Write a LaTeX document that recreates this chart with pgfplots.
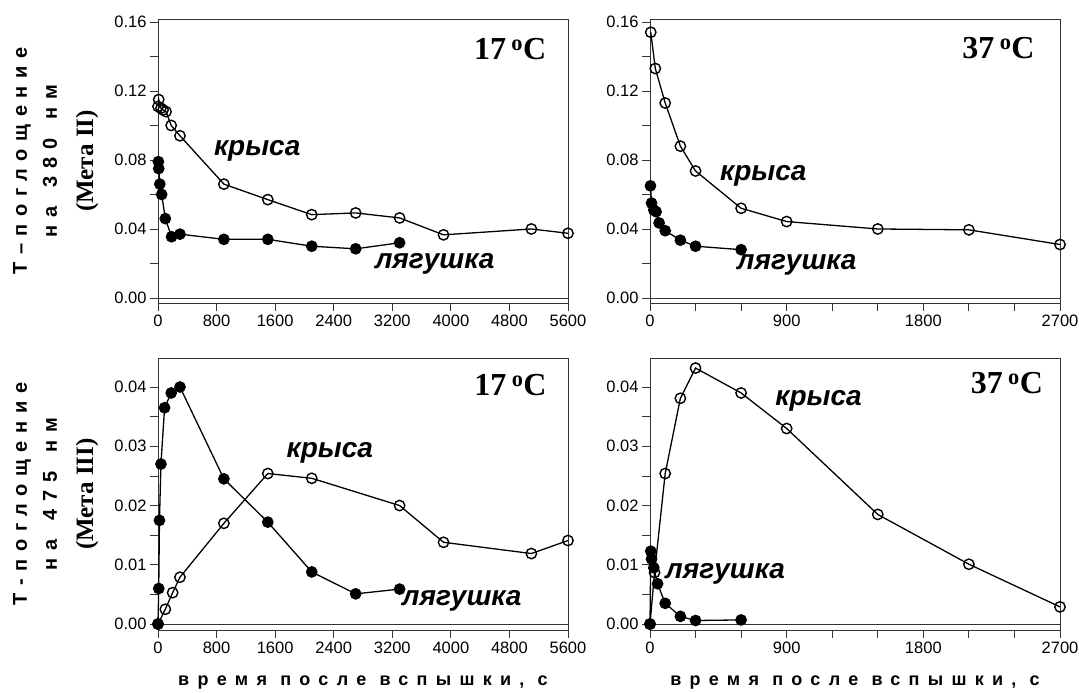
\documentclass[border=0pt]{standalone}
\usepackage{fontspec}
\setmainfont{Liberation Serif}
\setsansfont{Liberation Sans}
\newfontfamily\spaced[LetterSpace=38]{Liberation Sans}
\newfontfamily\xspaced[LetterSpace=46]{Liberation Sans}
\usepackage{pgfplots}
\pgfplotsset{compat=1.18}
\pgfplotsset{
  panel/.style={
    scale only axis, width=410pt,
    axis line style={black!80, line width=0.8pt},
    tick align=outside, xtick pos=bottom, ytick pos=left,
    major tick length=8pt, minor tick length=8pt,
    every tick/.style={black!80, line width=0.8pt},
    tick label style={font=\fontsize{16.5}{16.5}\selectfont\sffamily},
    /pgf/number format/assume math mode=true,
    scaled ticks=false, clip=false, xmin=0,
    x tick label style={/pgf/number format/1000 sep={}},
    y tick label style={/pgf/number format/.cd, fixed, fixed zerofill, precision=2},
  },
  toprow/.style={panel, height=284pt, ymin=-0.0029, ymax=0.1617,
    ytick={0,0.04,0.08,0.12,0.16}, minor y tick num=1},
  botrow/.style={panel, height=272pt, ymin=-0.001, ymax=0.0449,
    ytick={0,0.01,0.02,0.03,0.04}, minor y tick num=1},
  lpanel/.style={xmax=5600, xtick={0,800,1600,2400,3200,4000,4800,5600}},
  rpanel/.style={xmax=2700, xtick={0,900,1800,2700}, minor x tick num=2},
  rat/.style={black, line width=1.3pt, mark=o, mark size=5.2pt, mark options={line width=1.4pt}},
  frog/.style={black, line width=1.3pt, mark=*, mark size=5.2pt},
}
\tikzset{
  lab/.style={font=\fontsize{28}{28}\selectfont\sffamily\bfseries\itshape},
  temp/.style={font=\fontsize{32}{32}\selectfont\bfseries},
}
\newcommand{\zeroline}{\draw[black!80, line width=0.8pt] ({rel axis cs:0,0}|-{axis cs:0,0}) -- ({rel axis cs:1,0}|-{axis cs:0,0});}
\begin{document}
\begin{tikzpicture}
\path[use as bounding box] (0,0) rectangle (1079pt,693pt);
% ---------- top left
\begin{axis}[toprow, lpanel, at={(158pt,390pt)}, anchor=south west]
\zeroline
\addplot[rat] coordinates {(0,0.111) (10,0.115) (40,0.110) (70,0.109) (110,0.108) (180,0.100) (300,0.094) (900,0.066) (1500,0.057) (2100,0.0483) (2700,0.0493) (3300,0.0464) (3900,0.0366) (5100,0.0400) (5600,0.0375)};
\addplot[frog] coordinates {(5,0.079) (10,0.075) (25,0.066) (50,0.060) (100,0.046) (185,0.0355) (300,0.037) (900,0.034) (1500,0.034) (2100,0.030) (2700,0.0285) (3300,0.032)};
\node[temp] at (axis cs:4810,0.144) {17\,\textsuperscript{o}C};
\node[lab] at (axis cs:1355,0.0853) {крыса};
\node[lab] at (axis cs:3780,0.0198) {лягушка};
\end{axis}
% ---------- top right
\begin{axis}[toprow, rpanel, at={(650pt,390pt)}, anchor=south west]
\zeroline
\addplot[rat] coordinates {(5,0.154) (35,0.133) (100,0.113) (200,0.088) (300,0.0736) (600,0.052) (900,0.0443) (1500,0.040) (2100,0.0395) (2700,0.031)};
\addplot[frog] coordinates {(3,0.065) (10,0.055) (25,0.051) (40,0.050) (60,0.0435) (100,0.039) (200,0.0335) (300,0.030) (600,0.028)};
\node[temp] at (axis cs:2295,0.1446) {37\,\textsuperscript{o}C};
\node[lab] at (axis cs:746,0.0707) {крыса};
\node[lab] at (axis cs:967,0.0193) {лягушка};
\end{axis}
% ---------- bottom left
\begin{axis}[botrow, lpanel, at={(158pt,63pt)}, anchor=south west]
\zeroline
\addplot[rat] coordinates {(0,0) (100,0.0025) (200,0.0053) (300,0.0079) (900,0.0170) (1500,0.0254) (2100,0.0246) (3300,0.0200) (3900,0.0138) (5100,0.0119) (5600,0.0141)};
\addplot[frog] coordinates {(0,0) (10,0.006) (20,0.0175) (40,0.027) (90,0.0365) (180,0.039) (300,0.040) (900,0.0245) (1500,0.0172) (2100,0.0088) (2700,0.0051) (3300,0.0059)};
\node[temp] at (axis cs:4815,0.0404) {17\,\textsuperscript{o}C};
\node[lab] at (axis cs:2346,0.0289) {крыса};
\node[lab] at (axis cs:4150,0.0040) {лягушка};
\end{axis}
% ---------- bottom right
\begin{axis}[botrow, rpanel, at={(650pt,63pt)}, anchor=south west]
\zeroline
\addplot[rat] coordinates {(0,0) (30,0.0087) (100,0.0254) (200,0.0381) (300,0.0432) (600,0.039) (900,0.033) (1500,0.0185) (2100,0.0101) (2700,0.0029)};
\addplot[frog] coordinates {(0,0) (5,0.0123) (10,0.011) (25,0.0095) (50,0.0068) (100,0.0035) (200,0.0013) (300,0.0006) (600,0.0007)};
\node[temp] at (axis cs:2350,0.0406) {37\,\textsuperscript{o}C};
\node[lab] at (axis cs:1110,0.0377) {крыса};
\node[lab] at (axis cs:495,0.0085) {лягушка};
\end{axis}
% ---------- axis titles
\node[rotate=90, font=\fontsize{20}{20}\selectfont\spaced\bfseries] at (22pt,532pt) {Т–поглощение};
\node[rotate=90, font=\fontsize{20}{20}\selectfont\spaced\bfseries] at (50pt,532pt) {на\hspace{6pt} 380\hspace{6pt} нм};
\node[rotate=90, font=\fontsize{25}{25}\selectfont\bfseries] at (87pt,532pt) {(Мета II)};
\node[rotate=90, font=\fontsize{20}{20}\selectfont\spaced\bfseries] at (22pt,199pt) {Т-поглощение};
\node[rotate=90, font=\fontsize{20}{20}\selectfont\spaced\bfseries] at (50pt,199pt) {на\hspace{6pt} 475\hspace{6pt} нм};
\node[rotate=90, font=\fontsize{25}{25}\selectfont\bfseries] at (87pt,199pt) {(Мета III)};
\node[font=\fontsize{18}{18}\selectfont\xspaced\bfseries] at (363pt,10pt) {время после вспышки, с};
\node[font=\fontsize{18}{18}\selectfont\xspaced\bfseries] at (855pt,10pt) {время после вспышки, с};
\end{tikzpicture}
\end{document}
